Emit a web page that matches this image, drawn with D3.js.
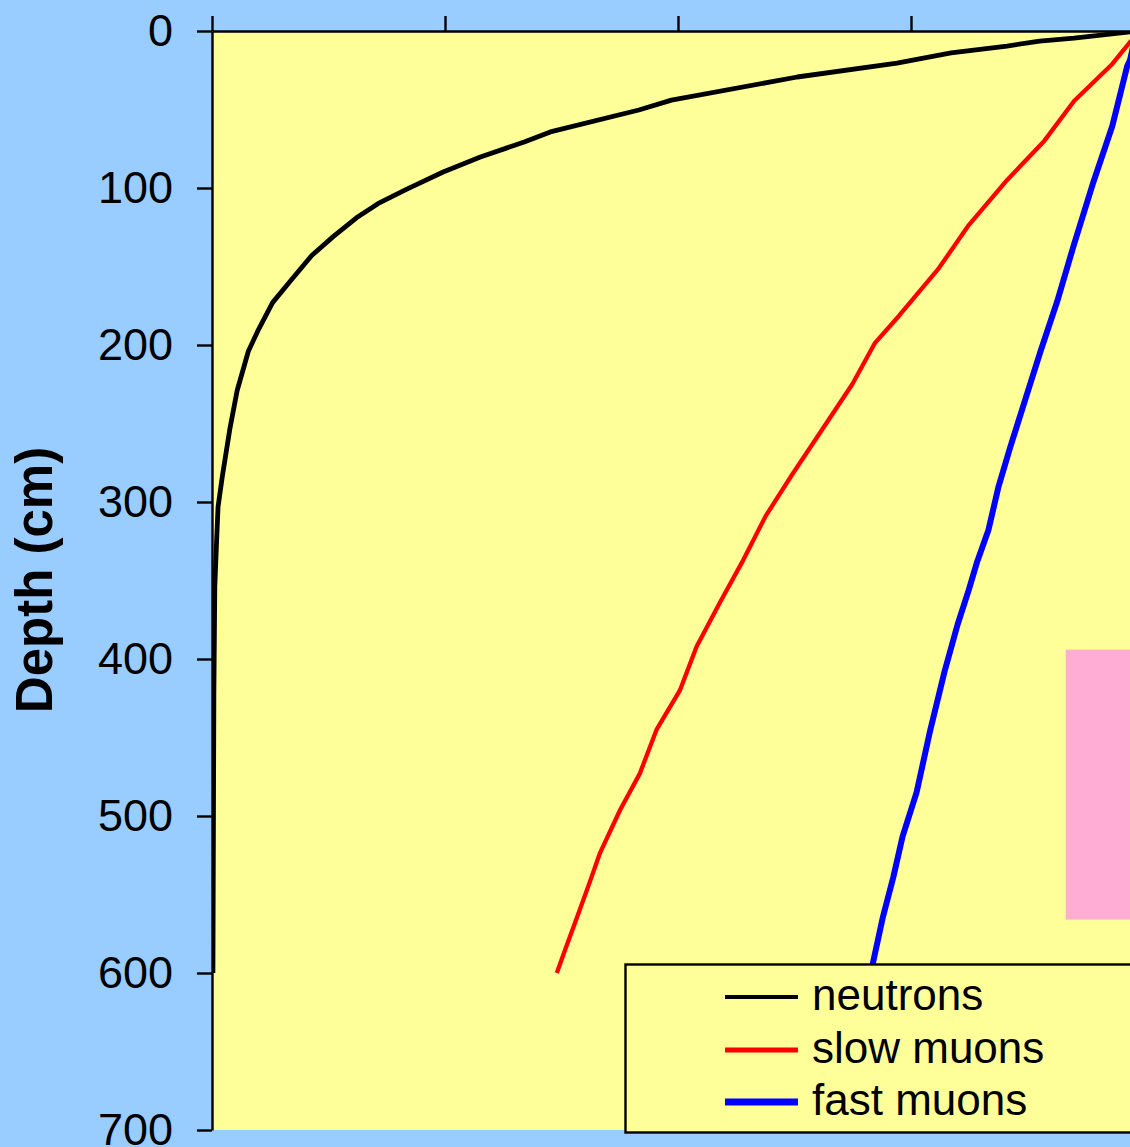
<!DOCTYPE html>
<html>
<head>
<meta charset="utf-8">
<script src="https://cdn.jsdelivr.net/npm/d3@7"></script>
<style>
  html, body { margin: 0; padding: 0; background: #99CCFF; }
  svg { display: block; }
</style>
</head>
<body>
<svg id="chart" width="1130" height="1147"></svg>
<script>
// ---- data ----
const depthTicks = [0, 100, 200, 300, 400, 500, 600, 700];
const xTicks = [0, 0.25, 0.5, 0.75, 1];
const seriesNames = ["neutrons", "slow muons", "fast muons"];

const neutronDepth = [0, 0.6, 4.5, 6.4, 9.6, 14, 20.4, 29.3, 44, 50.3, 64.3, 70.7, 80.3, 89.8, 101, 110, 119, 131, 143, 160, 173, 190, 204, 229, 254, 284, 303, 324, 354, 422, 600];
const neutronVal   = [1.0, 0.985, 0.925, 0.888, 0.853, 0.793, 0.735, 0.628, 0.493, 0.458, 0.363, 0.335, 0.288, 0.248, 0.208, 0.178, 0.155, 0.130, 0.107, 0.083, 0.065, 0.05, 0.039, 0.027, 0.019, 0.011, 0.0065, 0.005, 0.003, 0.002, 0.001];

const slowDepth = [0, 7, 21, 44.6, 70, 95, 123.6, 151, 181.5, 199, 225, 250, 283, 309, 337, 364, 392, 420, 445, 473, 496, 524, 541, 564, 585, 600];
const slowVal   = [1.0, 0.985, 0.966, 0.925, 0.893, 0.853, 0.812, 0.780, 0.737, 0.711, 0.687, 0.659, 0.622, 0.594, 0.570, 0.545, 0.520, 0.502, 0.477, 0.459, 0.438, 0.416, 0.406, 0.392, 0.379, 0.370];

const fastDepth = [0, 18.5, 22.3, 60.5, 97.5, 135.7, 172, 204, 234, 266, 290, 318, 338, 356, 378, 408, 447, 485, 513, 539, 564, 594, 600];
const fastVal   = [0.992, 0.985, 0.982, 0.966, 0.945, 0.925, 0.907, 0.889, 0.873, 0.856, 0.844, 0.833, 0.821, 0.812, 0.800, 0.786, 0.770, 0.756, 0.741, 0.731, 0.720, 0.709, 0.707];

// shaded region (data units)
const shadeDepth = [394, 566];
const shadeVal = [0.916, 1.2];

// ---- layout ----
const svg = d3.select("#chart");
const W = 1130, H = 1147;
const plotLeft = 212, plotTop = 31, plotBottom = 1130, plotRightRange = 1144;
const x = d3.scaleLinear().domain([0, 1]).range([plotLeft, plotRightRange]);
const y = d3.scaleLinear().domain([0, 700]).range([plotTop, plotBottom]);

svg.append("rect").attr("width", W).attr("height", H).attr("fill", "#99CCFF");

// plot area
svg.append("rect")
  .attr("x", x(0)).attr("y", y(0))
  .attr("width", W - x(0) + 20).attr("height", y(700) - y(0))
  .attr("fill", "#FFFF99");

svg.append("defs").append("clipPath").attr("id", "plotclip")
  .append("rect").attr("x", x(0)).attr("y", y(0))
  .attr("width", W - x(0) + 20).attr("height", y(700) - y(0));

const plot = svg.append("g").attr("clip-path", "url(#plotclip)");

plot.append("rect")
  .attr("x", x(shadeVal[0])).attr("y", y(shadeDepth[0]))
  .attr("width", x(shadeVal[1]) - x(shadeVal[0]))
  .attr("height", y(shadeDepth[1]) - y(shadeDepth[0]))
  .attr("fill", "#FFADD5");

const series = [
  { name: seriesNames[0], depth: neutronDepth, val: neutronVal, color: "#000000", width: 4.8 },
  { name: seriesNames[1], depth: slowDepth, val: slowVal, color: "#FF0000", width: 4.3 },
  { name: seriesNames[2], depth: fastDepth, val: fastVal, color: "#0000FF", width: 6 }
];

const line = d3.line().x(d => x(d[1])).y(d => y(d[0]));

series.forEach(s => {
  plot.append("path")
    .datum(s.depth.map((d, i) => [d, s.val[i]]))
    .attr("d", line)
    .attr("fill", "none")
    .attr("stroke", s.color)
    .attr("stroke-width", s.width)
    .attr("stroke-linejoin", "round")
    .attr("stroke-linecap", "butt");
});

// axes
const yAxis = d3.axisLeft(y).tickValues(depthTicks).tickSize(15).tickSizeOuter(0).tickPadding(24);
const gy = svg.append("g").attr("transform", `translate(${x(0)},0)`).call(yAxis);
gy.selectAll("path, line").attr("stroke", "#000").attr("stroke-width", 2.4);
gy.selectAll("text")
  .attr("font-family", "Liberation Sans, Arial, sans-serif")
  .attr("font-size", 45)
  .attr("fill", "#000");

const xAxis = d3.axisTop(x).tickValues(xTicks).tickSize(15).tickSizeOuter(0).tickFormat("");
const gx = svg.append("g").attr("transform", `translate(0,${y(0)})`).call(xAxis);
gx.selectAll("path, line").attr("stroke", "#000").attr("stroke-width", 2.4);

// axis title
svg.append("text")
  .attr("transform", "rotate(-90)")
  .attr("x", -580).attr("y", 52)
  .attr("text-anchor", "middle")
  .attr("font-family", "Liberation Sans, Arial, sans-serif")
  .attr("font-weight", "bold")
  .attr("font-size", 51)
  .attr("fill", "#000")
  .text("Depth (cm)");

// legend
const lg = svg.append("g");
lg.append("rect")
  .attr("x", 625.5).attr("y", 964.5)
  .attr("width", 600).attr("height", 168)
  .attr("fill", "#FFFF99").attr("stroke", "#000").attr("stroke-width", 2.4);

const legendRowY = [997, 1050, 1102];
const legendWidths = [4, 4.8, 7];
series.forEach((s, i) => {
  lg.append("line")
    .attr("x1", 725).attr("x2", 798)
    .attr("y1", legendRowY[i]).attr("y2", legendRowY[i])
    .attr("stroke", s.color).attr("stroke-width", legendWidths[i]);
  lg.append("text")
    .attr("x", 812).attr("y", legendRowY[i] + 13)
    .attr("font-family", "Liberation Sans, Arial, sans-serif")
    .attr("font-size", 44)
    .attr("fill", "#000")
    .text(s.name);
});
</script>
</body>
</html>
